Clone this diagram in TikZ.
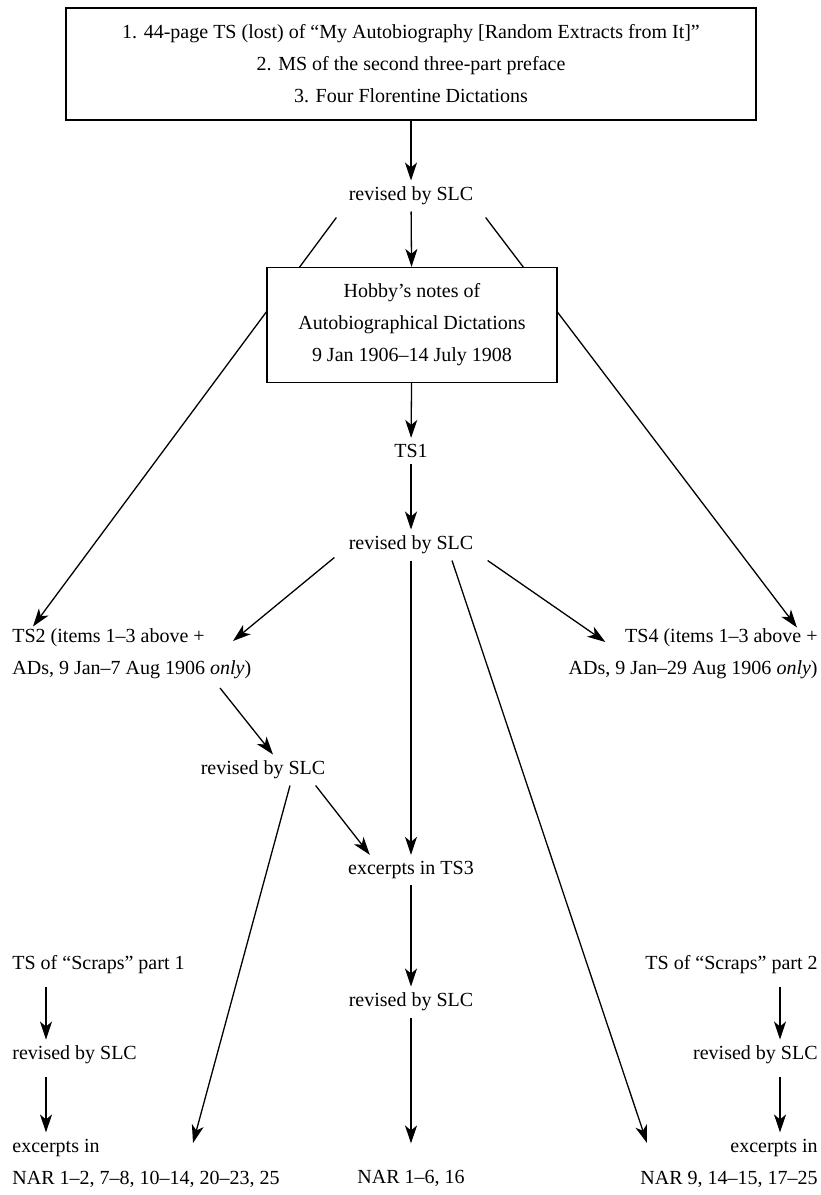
\documentclass[tikz,border=0pt]{standalone}
\usepackage{fontspec}
\setmainfont{Liberation Serif}
\usetikzlibrary{arrows.meta, positioning}

\begin{document}
\begin{tikzpicture}[x=0.5pt, y=-0.5pt,
    every node/.style={font=\fontsize{10}{16}\selectfont, inner sep=3pt},
    box/.style={draw, line width=0.6pt, fill=white, align=center},
    arr/.style={-{Stealth[length=9pt, width=6pt, inset=2.5pt]}, line width=0.65pt}]
    \useasboundingbox (0,0) rectangle (820,1195);

    % Sources
    \node[box, minimum width=345pt, minimum height=56pt] (top) at (411,64)
        {1. 44-page TS (lost) of “My Autobiography [Random Extracts from It]”\\
         2. MS of the second three-part preface\\
         3. Four Florentine Dictations};
    \node (rev1) at (411,196) {revised by SLC};

    % TS2 and TS4
    \node[anchor=west, align=left] (ts2) at (6,654)
        {TS2 (items 1--3 above +\\ADs, 9 Jan--7 Aug 1906 \textit{only})};
    \node[anchor=east, align=right] (ts4) at (824,654)
        {TS4 (items 1--3 above +\\ADs, 9 Jan--29 Aug 1906 \textit{only})};
    \draw[arr] ([shift={(-6,6)}]rev1.south west) -- ([shift={(27,4)}]ts2.north west);
    \draw[arr] ([shift={(6,6)}]rev1.south east) -- ([shift={(-27,5)}]ts4.north east);

    % Hobby's notes
    \node[box, minimum width=145pt, minimum height=57.5pt] (hobby) at (412,325)
        {Hobby’s notes of\\Autobiographical Dictations\\9 Jan 1906--14 July 1908};
    \node (ts1) at (411,451) {TS1};
    \node (rev2) at (411,545) {revised by SLC};
    \node (rev3) at (263,770) {revised by SLC};
    \node (ex3) at (411,870) {excerpts in TS3};
    \node (rev4) at (411,1002) {revised by SLC};
    \node (nar2) at (411,1178) {NAR 1--6, 16};

    % LEFT: Scraps part 1
    \node[anchor=west] (scr1) at (6,965) {TS of “Scraps” part 1};
    \node[anchor=west] (rev5) at (6,1055) {revised by SLC};
    \node[anchor=west, align=left] (nar1) at (6,1163)
        {excerpts in\\NAR 1--2, 7--8, 10--14, 20--23, 25};

    % RIGHT: Scraps part 2
    \node[anchor=east] (scr2) at (824,965) {TS of “Scraps” part 2};
    \node[anchor=east] (rev6) at (824,1055) {revised by SLC};
    \node[anchor=east, align=right] (nar3) at (824,1163)
        {excerpts in\\NAR 9, 14--15, 17--25};

    % Main stem
    \draw[arr] (top) -- (rev1);
    \draw[arr] (rev1) -- (hobby);
    \draw[arr] (hobby) -- (ts1);
    \draw[arr] (ts1) -- (rev2);
    \draw[arr] ([shift={(-8,-3)}]rev2.south west) -- ([shift={(227,-13)}]ts2.west);
    \draw[arr] ([shift={(8,0)}]rev2.south east) -- ([shift={(43,-12)}]ts4.west);
    \draw[arr] (rev2) -- (ex3);
    \draw[arr] ([xshift=20.5pt]rev2.south) -- ([shift={(13,-20)}]nar3.west);

    % TS2 branch
    \draw[arr] ([shift={(214,34)}]ts2.west) -- ([xshift=5pt]rev3.north);
    \draw[arr] ([xshift=-8pt]rev3.south east) -- ([xshift=14pt]ex3.north west);
    \draw[arr] ([xshift=13.5pt]rev3.south) -- ([shift={(187,-20)}]nar1.west);
    \draw[arr] (ex3) -- (rev4);
    \draw[arr, shorten >=10pt] (rev4) -- (nar2);

    % Scraps
    \draw[arr, shorten <=3pt] ([xshift=20pt]scr1.south west) -- ([xshift=20pt]rev5.north west);
    \draw[arr, shorten <=3pt] ([xshift=20pt]rev5.south west) -- ([xshift=20pt]nar1.north west);
    \draw[arr, shorten <=3pt] ([xshift=-22pt]scr2.south east) -- ([xshift=-22pt]rev6.north east);
    \draw[arr, shorten <=3pt] ([xshift=-22pt]rev6.south east) -- ([xshift=-22pt]nar3.north east);
\end{tikzpicture}
\end{document}
